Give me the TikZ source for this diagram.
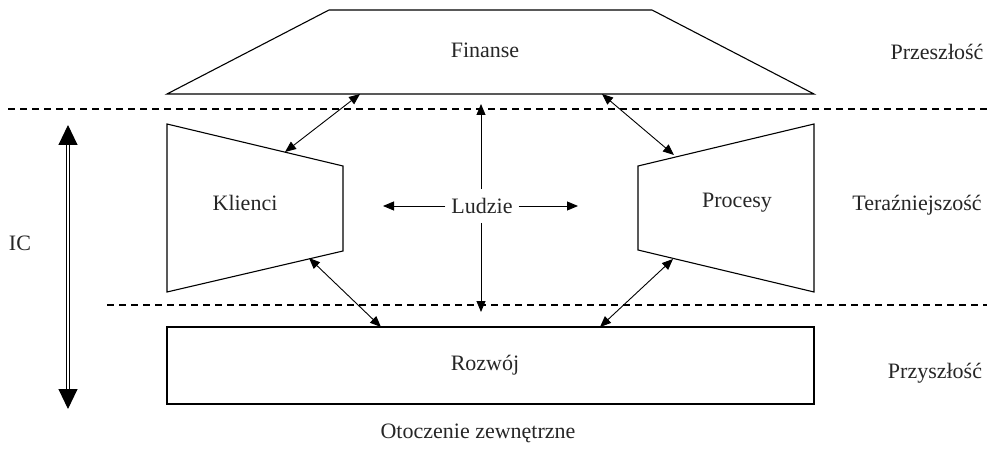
\documentclass[tikz,border=0pt]{standalone}
\usepackage{fontspec}
\setmainfont{Liberation Serif}
\usetikzlibrary{arrows.meta}

\begin{document}
\begin{tikzpicture}[x=1pt, y=-1pt,
        shape line/.style={line width=1.1pt, line join=miter},
        link/.style={line width=0.9pt, {Triangle[width=9pt,length=11pt]}-{Triangle[width=9pt,length=11pt]}},
        ray/.style={line width=0.9pt, -{Triangle[width=9pt,length=11pt]}},
        border/.style={line width=1.1pt, dash pattern=on 7pt off 5pt},
        lbl/.style={font=\fontsize{22}{26}\selectfont, text=black!85}]
        \useasboundingbox (0, 0) rectangle (996, 449);
        % time borders
        \draw[border] (8, 109) -- (987, 109);
        \draw[border] (107, 305) -- (987, 305);
        % the four blocks
        \draw[shape line] (329, 10) -- (652, 10) -- (814, 94) -- (167, 94) -- cycle;
        \draw[shape line] (167, 124) -- (343, 166) -- (343, 251) -- (167, 292) -- cycle;
        \draw[shape line] (638, 166) -- (814, 124) -- (814, 292) -- (638, 250) -- cycle;
        \draw[shape line] (167, 327) rectangle (814, 404);
        \node[lbl] (finanse) at (485, 50) {Finanse};
        \node[lbl] (klienci) at (245, 203) {Klienci};
        \node[lbl] (procesy) at (737, 203) {Procesy};
        \node[lbl] (rozwoj) at (485, 365) {Rozwój};
        \node[lbl, inner xsep=6pt, inner ysep=9pt] (ludzie) at (482, 206) {Ludzie};
        % points on the block edges
        \coordinate (finL) at (360, 94);
        \coordinate (finR) at (602, 94);
        \coordinate (finC) at (481, 104);
        \coordinate (kliT) at (285, 152);
        \coordinate (kliB) at (309, 258);
        \coordinate (proT) at (674, 155);
        \coordinate (proB) at (673, 259);
        \coordinate (rozL) at (381, 327);
        \coordinate (rozR) at (600, 327);
        \coordinate (rozC) at (481, 312);
        \coordinate (ludW) at (383, 206);
        \coordinate (ludE) at (578, 206);
        \draw[link] (finL) -- (kliT);
        \draw[link] (finR) -- (proT);
        \draw[link] (kliB) -- (rozL);
        \draw[link] (proB) -- (rozR);
        \draw[ray] (ludzie.north -| finC) -- (finC);
        \draw[ray] (ludzie.south -| rozC) -- (rozC);
        \draw[ray] (ludzie.west) -- (ludW);
        \draw[ray] (ludzie.east) -- (ludE);
        % IC
        \coordinate (icTop) at (68, 125);
        \coordinate (icBot) at (68, 409);
        \draw[line width=1pt, double, double distance=2.5pt,
            {Triangle[width=19pt,length=20pt]}-{Triangle[width=19pt,length=20pt]}] (icTop) -- (icBot);
        \node[lbl] (ic) at (20, 243) {IC};
        % time labels
        \node[lbl] (past) at (937, 52) {Przeszłość};
        \node[lbl] (now) at (917, 205) {Teraźniejszość};
        \node[lbl] (future) at (935, 373) {Przyszłość};
        \node[lbl] (env) at (478, 433) {Otoczenie zewnętrzne};
    \end{tikzpicture}
\end{document}
